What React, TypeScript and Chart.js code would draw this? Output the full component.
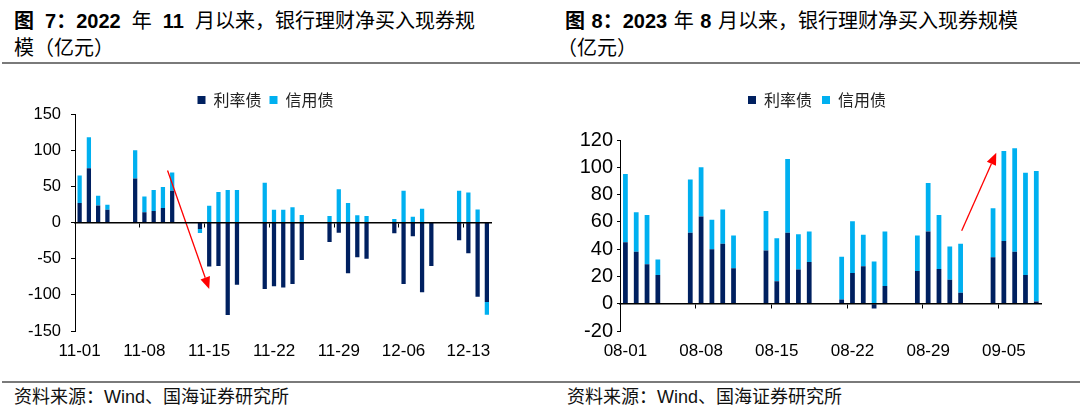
import React, { useEffect, useRef } from 'react';
import { Chart, registerables } from 'chart.js';

Chart.register(...registerables);

// ---------- data: 图7 (2022-11 ~ 2022-12) ----------
const fig7Dates = [
  '11-01', '11-02', '11-03', '11-04', '11-05', '11-06', '11-07', '11-08', '11-09', '11-10',
  '11-11', '11-12', '11-13', '11-14', '11-15', '11-16', '11-17', '11-18', '11-19', '11-20',
  '11-21', '11-22', '11-23', '11-24', '11-25', '11-26', '11-27', '11-28', '11-29', '11-30',
  '12-01', '12-02', '12-03', '12-04', '12-05', '12-06', '12-07', '12-08', '12-09', '12-10',
  '12-11', '12-12', '12-13', '12-14', '12-15',
];
const fig7TickLabels = ['11-01', '11-08', '11-15', '11-22', '11-29', '12-06', '12-13'];
const fig7Rate = [
  27, 75, 23.5, 17.5, null, null, 61, 14, 16, 20,
  44, null, null, -9, -61, -60, -128, -86, null, null,
  -92, -88, -90, -85, -52, null, null, -27, -14, -70,
  -48, -50, null, null, -15, -85, -19, -96.5, -60, null,
  null, -24.5, -42.5, -102.5, -110,
];
const fig7Credit = [
  38, 43, 13.5, 7, null, null, 39, 22, 29, 29,
  25, null, null, -5.5, 23, 42, 45, 45, null, null,
  55, 17.5, 17.5, 21, 10.5, null, null, 9, 46, 27,
  10, 9, null, null, 5, 44, 8, 19, 0, null,
  null, 44, 41.5, 18, -17.5,
];
const fig7YRange = [-150, 150];
const fig7YStep = 50;
const fig7Arrow = { from: [9.5, 72], to: [14, -92] };

// ---------- data: 图8 (2023-08 ~ 2023-09) ----------
const fig8Dates = [
  '08-01', '08-02', '08-03', '08-04', '08-05', '08-06', '08-07', '08-08', '08-09', '08-10',
  '08-11', '08-12', '08-13', '08-14', '08-15', '08-16', '08-17', '08-18', '08-19', '08-20',
  '08-21', '08-22', '08-23', '08-24', '08-25', '08-26', '08-27', '08-28', '08-29', '08-30',
  '08-31', '09-01', '09-02', '09-03', '09-04', '09-05', '09-06', '09-07', '09-08',
];
const fig8TickLabels = ['08-01', '08-08', '08-15', '08-22', '08-29', '09-05'];
const fig8Rate = [
  45, 38, 29, 21, null, null, 52, 64, 40, 44,
  26, null, null, 39, 16.5, 52, 25, 30.5, null, null,
  3, 22.5, 27.5, -3.5, 13, null, null, 24, 53, 25.5,
  17.5, 8, null, null, 34, 46, 38, 21, 1.7,
];
const fig8Credit = [
  50, 29, 36, 11.5, null, null, 39, 36, 21.5, 25,
  24, null, null, 29, 31.5, 54, 26, 22.5, null, null,
  31.5, 38, 23, 31, 40, null, null, 26, 35.5, 39.5,
  24.5, 36, null, null, 36, 66, 76, 75, 95.5,
];
const fig8YRange = [-20, 120];
const fig8YStep = 20;
const fig8Arrow = { from: [31.1, 53.4], to: [34.3, 110.7] };

const seriesNames = ['利率债', '信用债'];

// ---------- styles ----------
const NAVY = '#002060';
const SKY = '#00B0F0';
const RED = '#FF0000';
const LATIN = '"Liberation Sans", Arial, sans-serif';
const CJK = '"Noto Sans CJK SC", "Liberation Sans", sans-serif';

const arrowPlugin = {
  id: 'trendArrow',
  afterDatasetsDraw(chart: any, _args: any, opts: any) {
    const a = opts && opts.arrow;
    if (!a) return;
    const xs = chart.scales.x;
    const ys = chart.scales.y;
    const x1 = xs.getPixelForValue(a.from[0]);
    const y1 = ys.getPixelForValue(a.from[1]);
    const x2 = xs.getPixelForValue(a.to[0]);
    const y2 = ys.getPixelForValue(a.to[1]);
    const ctx = chart.ctx;
    const ang = Math.atan2(y2 - y1, x2 - x1);
    const hl = 12;
    const hw = 5;
    const bx = x2 - hl * Math.cos(ang);
    const by = y2 - hl * Math.sin(ang);
    ctx.save();
    ctx.strokeStyle = RED;
    ctx.fillStyle = RED;
    ctx.lineWidth = 1.3;
    ctx.beginPath();
    ctx.moveTo(x1, y1);
    ctx.lineTo(bx, by);
    ctx.stroke();
    ctx.beginPath();
    ctx.moveTo(x2, y2);
    ctx.lineTo(bx + hw * Math.sin(ang), by - hw * Math.cos(ang));
    ctx.lineTo(bx - hw * Math.sin(ang), by + hw * Math.cos(ang));
    ctx.closePath();
    ctx.fill();
    ctx.restore();
  },
};

type PanelSpec = {
  dates: string[];
  tickLabels: string[];
  rate: (number | null)[];
  credit: (number | null)[];
  yRange: number[];
  yStep: number;
  arrow: { from: number[]; to: number[] };
  yFont: number;
  yPad: number;
  yTick: number;
  yWidth: number;
  rightPad: number;
  legendPad: number;
  legendMaxHeight?: number;
  spacer: number;
  barPct: number;
};

function makeConfig(p: PanelSpec): any {
  return {
    type: 'bar',
    data: {
      labels: p.dates,
      datasets: [
        {
          label: seriesNames[0],
          data: p.rate,
          backgroundColor: NAVY,
          borderWidth: 0,
          barPercentage: p.barPct,
          categoryPercentage: 1,
          stack: 's',
        },
        {
          label: seriesNames[1],
          data: p.credit,
          backgroundColor: SKY,
          borderWidth: 0,
          barPercentage: p.barPct,
          categoryPercentage: 1,
          stack: 's',
        },
      ],
    },
    options: {
      responsive: false,
      maintainAspectRatio: false,
      animation: false,
      layout: { padding: 0 },
      plugins: {
        legend: {
          display: true,
          position: 'top',
          maxHeight: p.legendMaxHeight,
          labels: {
            boxWidth: 8,
            boxHeight: 8,
            padding: p.legendPad,
            color: '#222',
            font: { family: CJK, size: 16 },
          },
        },
        subtitle: {
          display: p.spacer > 0,
          text: '',
          weight: 500,
          padding: 0,
          font: { size: Math.max(p.spacer, 1), lineHeight: 1 },
        },
        tooltip: { enabled: false },
        trendArrow: { arrow: p.arrow },
      },
      scales: {
        x: {
          type: 'category',
          stacked: true,
          offset: true,
          grid: { display: false, drawTicks: false },
          border: { display: false },
          ticks: {
            autoSkip: false,
            maxRotation: 0,
            minRotation: 0,
            padding: 9.8,
            color: '#000',
            font: { family: LATIN, size: 17 },
            callback: (_v: any, i: number) => (p.tickLabels.includes(p.dates[i]) ? p.dates[i] : ''),
          },
        },
        x2: {
          type: 'category',
          axis: 'x',
          labels: p.dates,
          position: { y: 0 },
          offset: true,
          grid: {
            display: true,
            offset: true,
            drawOnChartArea: false,
            drawTicks: true,
            tickLength: 4,
            lineWidth: 1,
            color: (ctx: any) =>
              typeof ctx.index === 'number' && ctx.index % 7 === 0 ? '#000' : 'rgba(0,0,0,0)',
          },
          ticks: { display: false },
          border: { display: true, color: '#000', width: 1.5, z: 1 },
          afterFit: (s: any) => {
            s.height = 0;
          },
        },
        y: {
          type: 'linear',
          stacked: true,
          min: p.yRange[0],
          max: p.yRange[1],
          ticks: {
            stepSize: p.yStep,
            autoSkip: false,
            color: '#000',
            padding: p.yPad,
            font: { family: LATIN, size: p.yFont },
          },
          grid: {
            drawOnChartArea: false,
            drawTicks: true,
            tickLength: p.yTick,
            color: '#000',
            tickColor: '#000',
          },
          border: { display: true, color: '#000', width: 1 },
          afterFit: (s: any) => {
            s.width = p.yWidth;
          },
        },
        yPad: {
          type: 'linear',
          axis: 'y',
          position: 'right',
          display: true,
          grid: { display: false, drawTicks: false },
          border: { display: false },
          ticks: { display: false },
          afterFit: (s: any) => {
            s.width = p.rightPad;
          },
        },
      },
    },
    plugins: [arrowPlugin],
  };
}

const fig7Spec: PanelSpec = {
  dates: fig7Dates,
  tickLabels: fig7TickLabels,
  rate: fig7Rate,
  credit: fig7Credit,
  yRange: fig7YRange,
  yStep: fig7YStep,
  arrow: fig7Arrow,
  yFont: 16.5,
  yPad: 10,
  yTick: 4,
  yWidth: 75,
  rightPad: 39.5,
  legendPad: 8,
  legendMaxHeight: 30,
  spacer: 0,
  barPct: 0.46,
};

const fig8Spec: PanelSpec = {
  dates: fig8Dates,
  tickLabels: fig8TickLabels,
  rate: fig8Rate,
  credit: fig8Credit,
  yRange: fig8YRange,
  yStep: fig8YStep,
  arrow: fig8Arrow,
  yFont: 20,
  yPad: 4,
  yTick: 3,
  yWidth: 66,
  rightPad: 38.3,
  legendPad: 10,
  spacer: 22,
  barPct: 0.44,
};

function BarPanel({ spec, left, top, width, height }: { spec: PanelSpec; left: number; top: number; width: number; height: number }) {
  const ref = useRef<HTMLCanvasElement>(null);
  useEffect(() => {
    if (!ref.current) return;
    const chart = new Chart(ref.current, makeConfig(spec));
    return () => chart.destroy();
  }, [spec]);
  return (
    <canvas
      ref={ref}
      width={width}
      height={height}
      style={{ position: 'absolute', left, top, width, height, display: 'block' }}
    />
  );
}

const rule = (top: number): React.CSSProperties => ({
  position: 'absolute',
  left: 2,
  top,
  width: 1078,
  height: 2,
  background: '#7a7a7a',
});

export default function App() {
  return (
    <div
      style={{
        position: 'absolute',
        left: 0,
        top: 0,
        width: 1080,
        height: 414,
        background: '#fff',
        overflow: 'hidden',
        fontFamily: '"Liberation Sans", "Noto Sans CJK SC", sans-serif',
        color: '#000',
      }}
    >
      <div style={{ position: 'absolute', left: 14, top: 7.5, fontSize: 20, lineHeight: '27px' }}>
        <div style={{ whiteSpace: 'nowrap', wordSpacing: '5.5px' }}>
          <b>图 7：2022</b> 年 <b>11</b> 月以来，银行理财净买入现券规
        </div>
        <div style={{ whiteSpace: 'nowrap' }}>模（亿元）</div>
      </div>
      <div style={{ position: 'absolute', left: 565, top: 7.5, fontSize: 20, lineHeight: '27px' }}>
        <div style={{ whiteSpace: 'nowrap', wordSpacing: '1px' }}>
          <b>图 8：2023</b> 年 <b>8</b> 月以来，银行理财净买入现券规模
        </div>
        <div style={{ whiteSpace: 'nowrap', marginLeft: -8 }}>（亿元）</div>
      </div>
      <div style={rule(62)} />

      <BarPanel spec={fig7Spec} left={0} top={84} width={531} height={287} />
      <BarPanel spec={fig8Spec} left={554} top={82} width={526} height={289} />

      <div style={rule(381)} />
      <div style={{ position: 'absolute', left: 14, top: 387, fontSize: 18, lineHeight: '20px', color: '#111', whiteSpace: 'nowrap' }}>
        资料来源：Wind、国海证券研究所
      </div>
      <div style={{ position: 'absolute', left: 567, top: 387, fontSize: 18, lineHeight: '20px', color: '#111', whiteSpace: 'nowrap' }}>
        资料来源：Wind、国海证券研究所
      </div>
    </div>
  );
}
